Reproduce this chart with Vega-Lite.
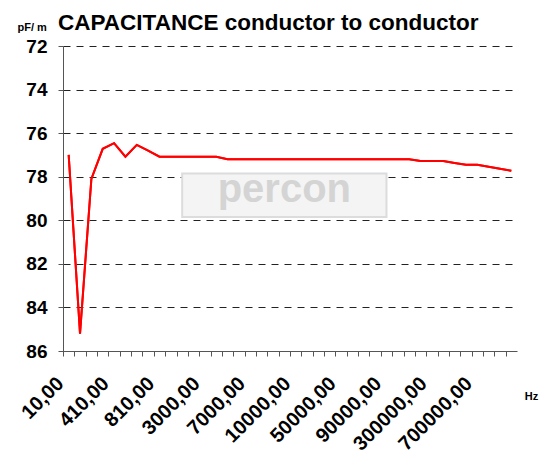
{
  "$schema": "https://vega.github.io/schema/vega-lite/v6.json",
  "width": 454,
  "height": 305,
  "autosize": "none",
  "padding": {"left": 63, "top": 46, "right": 30, "bottom": 107},
  "background": "white",
  "config": {
    "view": {"stroke": null},
    "font": "Liberation Sans"
  },
  "title": {
    "text": "CAPACITANCE conductor to conductor",
    "anchor": "start",
    "frame": "group",
    "font": "Liberation Sans",
    "fontSize": 22.5,
    "fontWeight": "bold",
    "color": "black",
    "dx": -5,
    "offset": -13
  },
  "data": {
    "values": [
      {"f": "10,00", "c": 77.0},
      {"f": "110,00", "c": 85.2},
      {"f": "210,00", "c": 78.1},
      {"f": "310,00", "c": 76.72},
      {"f": "410,00", "c": 76.46},
      {"f": "510,00", "c": 77.08},
      {"f": "610,00", "c": 76.54},
      {"f": "710,00", "c": 76.8},
      {"f": "810,00", "c": 77.08},
      {"f": "910,00", "c": 77.08},
      {"f": "1000,00", "c": 77.08},
      {"f": "2000,00", "c": 77.08},
      {"f": "3000,00", "c": 77.08},
      {"f": "4000,00", "c": 77.08},
      {"f": "5000,00", "c": 77.2},
      {"f": "6000,00", "c": 77.2},
      {"f": "7000,00", "c": 77.2},
      {"f": "8000,00", "c": 77.2},
      {"f": "9000,00", "c": 77.2},
      {"f": "9500,00", "c": 77.2},
      {"f": "10000,00", "c": 77.2},
      {"f": "20000,00", "c": 77.2},
      {"f": "30000,00", "c": 77.2},
      {"f": "40000,00", "c": 77.2},
      {"f": "50000,00", "c": 77.2},
      {"f": "60000,00", "c": 77.2},
      {"f": "70000,00", "c": 77.2},
      {"f": "80000,00", "c": 77.2},
      {"f": "90000,00", "c": 77.2},
      {"f": "100000,00", "c": 77.2},
      {"f": "200000,00", "c": 77.2},
      {"f": "250000,00", "c": 77.28},
      {"f": "300000,00", "c": 77.28},
      {"f": "400000,00", "c": 77.28},
      {"f": "500000,00", "c": 77.37},
      {"f": "600000,00", "c": 77.45},
      {"f": "700000,00", "c": 77.45},
      {"f": "800000,00", "c": 77.54},
      {"f": "900000,00", "c": 77.63},
      {"f": "1000000,00", "c": 77.73}
    ]
  },
  "layer": [
    {
      "mark": {"type": "line", "color": "#ff0000", "strokeWidth": 2},
      "encoding": {
        "x": {
          "field": "f",
          "type": "ordinal",
          "sort": null,
          "scale": {"type": "point", "padding": 0.5},
          "axis": {
            "title": "Hz",
            "titleFontSize": 11,
            "titleFontWeight": "bold",
            "titleX": 468,
            "titleY": 45,
            "titleAlign": "center",
            "titleBaseline": "middle",
            "labelAngle": -45,
            "labelAlign": "right",
            "labelBaseline": "top",
            "labelFontSize": 20,
            "labelFontWeight": "bold",
            "labelColor": "black",
            "labelPadding": 17,
            "labelOffset": -10,
            "labelOverlap": false,
            "labelExpr": "indexof(['10,00','410,00','810,00','3000,00','7000,00','10000,00','50000,00','90000,00','300000,00','700000,00'], datum.label) >= 0 ? datum.label : ''",
            "tickOffset": -5.675,
            "tickSize": 5,
            "tickColor": "#555555",
            "domainColor": "#555555",
            "grid": false
          }
        },
        "y": {
          "field": "c",
          "type": "quantitative",
          "scale": {"domain": [72, 86], "reverse": true, "nice": false, "zero": false},
          "axis": {
            "values": [72, 74, 76, 78, 80, 82, 84, 86],
            "title": "pF/ m",
            "titleAngle": 0,
            "titleFontSize": 11,
            "titleFontWeight": "bold",
            "titleX": -46,
            "titleY": -16,
            "titleAlign": "left",
            "titleBaseline": "alphabetic",
            "labelFontSize": 19,
            "labelFontWeight": "bold",
            "labelColor": "black",
            "labelPadding": 11,
            "tickSize": 5,
            "tickColor": "#555555",
            "domainColor": "#555555",
            "grid": true,
            "gridColor": "#222222",
            "gridDash": [7, 6],
            "gridWidth": 1
          }
        }
      }
    },
    {
      "transform": [{"filter": "datum.f == '1000,00'"}],
      "mark": {"type": "rect", "fill": "#f4f4f4", "stroke": "#dcdcdc", "strokeWidth": 2},
      "encoding": {
        "x": {"field": "f", "type": "ordinal", "sort": null},
        "x2": {"datum": "90000,00"},
        "y": {"datum": 77.85, "type": "quantitative"},
        "y2": {"datum": 79.85}
      }
    },
    {
      "transform": [{"filter": "datum.f == '9500,00'"}],
      "mark": {"type": "text", "text": "percon", "fontSize": 40, "fontWeight": "bold", "color": "#d4d4d4", "font": "Liberation Sans", "baseline": "alphabetic"},
      "encoding": {
        "x": {"field": "f", "type": "ordinal", "sort": null},
        "y": {"datum": 79.16, "type": "quantitative"}
      }
    },
    {
      "mark": {"type": "line", "color": "#ff0000", "strokeWidth": 2},
      "encoding": {
        "x": {"field": "f", "type": "ordinal", "sort": null},
        "y": {"field": "c", "type": "quantitative"}
      }
    }
  ]
}
